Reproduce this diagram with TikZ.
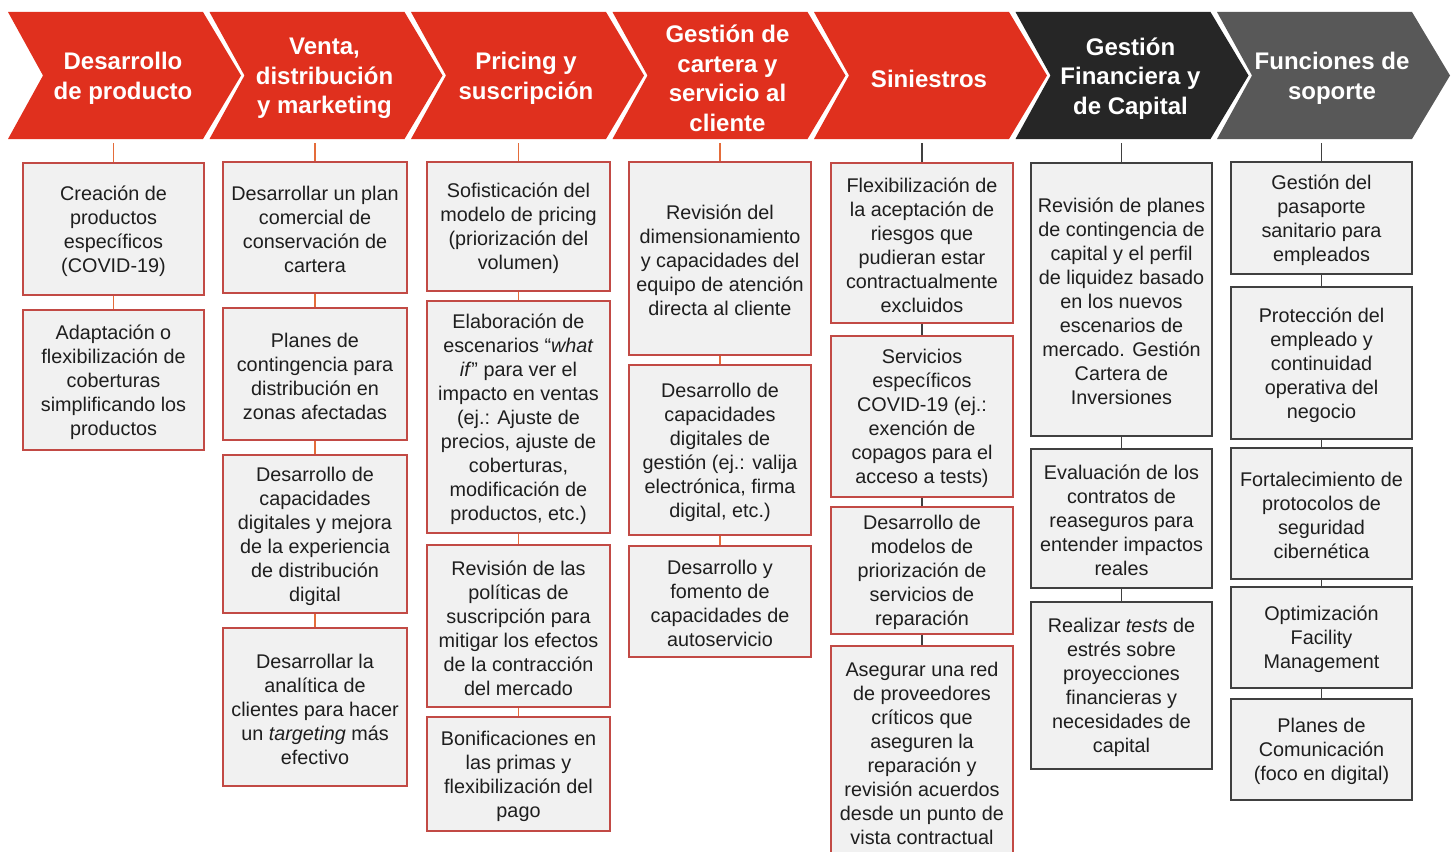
\documentclass[tikz,border=0pt]{standalone}
\usepackage{fontspec}
\setmainfont{Liberation Sans}
\definecolor{headred}{HTML}{E0301E}
\definecolor{headdark}{HTML}{262626}
\definecolor{headgray}{HTML}{585858}
\definecolor{boxfill}{HTML}{F1F1F1}
\definecolor{boxred}{HTML}{C24A45}
\definecolor{linkred}{HTML}{E46C3A}
\definecolor{boxdark}{HTML}{404040}
\definecolor{txt}{HTML}{1E1E1E}

% chevron: #1 left x, #2 colour, #3 node name, #4 title
\newcommand\chev[4]{%
  \fill[#2] (#1,12) -- ({#1+195},12) -- ({#1+233},75.5) -- ({#1+195},139)
    -- (#1,139) -- ({#1+35},75.5) -- cycle;
  \node[headtext] (#3) at ({#1+115},78.5) {#4};}
% box: #1 name, #2 x1, #3 y1, #4 x2, #5 y2, #6 style, #7 text
\newcommand\abox[7]{%
  \node[#6, minimum width={(#4)-(#2)}, minimum height={(#5)-(#3)},
    label={[boxtext]center:#7}]
    (#1) at ({((#2)+(#4))/2},{((#3)+(#5))/2}) {};}

\begin{document}
\begin{tikzpicture}[x=1pt,y=-1pt,
  headtext/.style={text=white, align=center, inner sep=0pt,
    font=\fontsize{24}{29.5}\selectfont\bfseries},
  actbox/.style={fill=boxfill, line width=1.6pt, inner sep=0pt},
  boxtext/.style={align=center, inner sep=0pt, yshift=-2pt,
    text=txt, font=\fontsize{19.8}{24}\selectfont},
  redbox/.style={actbox, draw=boxred},
  darkbox/.style={actbox, draw=boxdark},
  redlink/.style={draw=linkred, line width=1.6pt},
  darklink/.style={draw=boxdark, line width=1.6pt}]
\useasboundingbox (0,0) rectangle (1453,851);
\clip (0,0) rectangle (1453,851);

% value-chain headers
\chev{8}{headred}{h1}{Desarrollo\\de producto}
\chev{209.5}{headred}{h2}{Venta,\\distribución\\y marketing}
\chev{411}{headred}{h3}{Pricing y\\suscripción}
\chev{612.5}{headred}{h4}{Gestión de\\cartera y\\servicio al\\cliente}
\chev{814}{headred}{h5}{Siniestros}
\chev{1015.5}{headdark}{h6}{Gestión\\Financiera y\\de Capital}
\chev{1217}{headgray}{h7}{Funciones de\\soporte}

% column 1
\abox{b11}{23}{163}{204}{295}{redbox}{Creación de\\productos\\específicos\\(COVID-19)}
\abox{b12}{23}{310}{204}{450}{redbox}{Adaptación o\\flexibilización de\\coberturas\\simplificando los\\productos}

% column 2
\abox{b21}{223}{162}{407}{293}{redbox}{Desarrollar un plan\\comercial de\\conservación de\\cartera}
\abox{b22}{223}{308}{407}{440}{redbox}{Planes de\\contingencia para\\distribución en\\zonas afectadas}
\abox{b23}{223}{455}{407}{613}{redbox}{Desarrollo de\\capacidades\\digitales y mejora\\de la experiencia\\de distribución\\digital}
\abox{b24}{223}{628}{407}{786}{redbox}{Desarrollar la\\analítica de\\clientes para hacer\\un \textit{targeting} más\\efectivo}

% column 3
\abox{b31}{427}{162}{610}{291}{redbox}{Sofisticación del\\modelo de pricing\\(priorización del\\volumen)}
\abox{b32}{427}{301}{610}{533}{redbox}{Elaboración de\\escenarios “\textit{what}\\\textit{if}” para ver el\\impacto en ventas\\(ej.: Ajuste de\\precios, ajuste de\\coberturas,\\modificación de\\productos, etc.)}
\abox{b33}{427}{545}{610}{707}{redbox}{Revisión de las\\políticas de\\suscripción para\\mitigar los efectos\\de la contracción\\del mercado}
\abox{b34}{427}{717}{610}{831}{redbox}{Bonificaciones en\\las primas y\\flexibilización del\\pago}

% column 4
\abox{b41}{629}{162}{811}{355}{redbox}{Revisión del\\dimensionamiento\\y capacidades del\\equipo de atención\\directa al cliente}
\abox{b42}{629}{365}{811}{535}{redbox}{Desarrollo de\\capacidades\\digitales de\\gestión (ej.: valija\\electrónica, firma\\digital, etc.)}
\abox{b43}{629}{546}{811}{657}{redbox}{Desarrollo y\\fomento de\\capacidades de\\autoservicio}

% column 5
\abox{b51}{831}{163}{1013}{323}{redbox}{Flexibilización de\\la aceptación de\\riesgos que\\pudieran estar\\contractualmente\\excluidos}
\abox{b52}{831}{336}{1013}{497}{redbox}{Servicios\\específicos\\COVID-19 (ej.:\\exención de\\copagos para el\\acceso a tests)}
\abox{b53}{831}{507}{1013}{634}{redbox}{Desarrollo de\\modelos de\\priorización de\\servicios de\\reparación}
\abox{b54}{831}{646}{1013}{856}{redbox}{Asegurar una red\\de proveedores\\críticos que\\aseguren la\\reparación y\\revisión acuerdos\\desde un punto de\\vista contractual}

% column 6
\abox{b61}{1031}{163}{1212}{436}{darkbox}{Revisión de planes\\de contingencia de\\capital y el perfil\\de liquidez basado\\en los nuevos\\escenarios de\\mercado. Gestión\\Cartera de\\Inversiones}
\abox{b62}{1031}{449}{1212}{588}{darkbox}{Evaluación de los\\contratos de\\reaseguros para\\entender impactos\\reales}
\abox{b63}{1031}{602}{1212}{769}{darkbox}{Realizar \textit{tests} de\\estrés sobre\\proyecciones\\financieras y\\necesidades de\\capital}

% column 7
\abox{b71}{1231}{162}{1412}{274}{darkbox}{Gestión del\\pasaporte\\sanitario para\\empleados}
\abox{b72}{1231}{287}{1412}{439}{darkbox}{Protección del\\empleado y\\continuidad\\operativa del\\negocio}
\abox{b73}{1231}{448}{1412}{579}{darkbox}{Fortalecimiento de\\protocolos de\\seguridad\\cibernética}
\abox{b74}{1231}{587}{1412}{688}{darkbox}{Optimización\\Facility\\Management}
\abox{b75}{1231}{699}{1412}{800}{darkbox}{Planes de\\Comunicación\\(foco en digital)}

% header-to-column links
\coordinate (k1) at (113.5,143);
\coordinate (k2) at (315,143);
\coordinate (k3) at (518.5,143);
\coordinate (k4) at (720,143);
\coordinate (k5) at (922,143);
\coordinate (k6) at (1121.5,143);
\coordinate (k7) at (1321.5,143);

\draw[redlink] (k1) -- (b11.north);
\draw[redlink] (b11.south) -- (b12.north);

\draw[redlink] (k2) -- (b21.north);
\draw[redlink] (b21.south) -- (b22.north);
\draw[redlink] (b22.south) -- (b23.north);
\draw[redlink] (b23.south) -- (b24.north);

\draw[redlink] (k3) -- (b31.north);
\draw[redlink] (b31.south) -- (b32.north);
\draw[redlink] (b32.south) -- (b33.north);
\draw[redlink] (b33.south) -- (b34.north);

\draw[redlink] (k4) -- (b41.north);
\draw[redlink] (b41.south) -- (b42.north);
\draw[redlink] (b42.south) -- (b43.north);

\draw[darklink] (k5) -- (b51.north);
\draw[darklink] (b51.south) -- (b52.north);
\draw[darklink] (b52.south) -- (b53.north);
\draw[darklink] (b53.south) -- (b54.north);

\draw[darklink] (k6) -- (b61.north);
\draw[darklink] (b61.south) -- (b62.north);
\draw[darklink] (b62.south) -- (b63.north);

\draw[darklink] (k7) -- (b71.north);
\draw[darklink] (b71.south) -- (b72.north);
\draw[darklink] (b72.south) -- (b73.north);
\draw[darklink] (b73.south) -- (b74.north);
\draw[darklink] (b74.south) -- (b75.north);
\end{tikzpicture}
\end{document}
